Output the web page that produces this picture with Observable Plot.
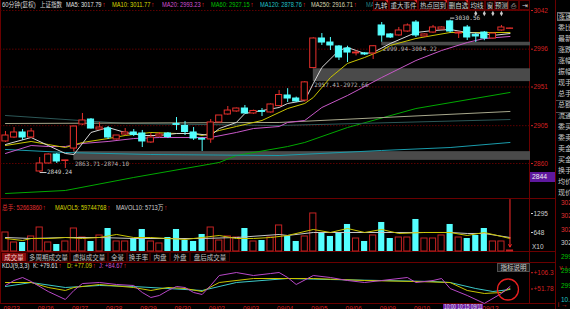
<!DOCTYPE html>
<html><head><meta charset="utf-8">
<script src="https://cdn.jsdelivr.net/npm/d3@7"></script>
<script src="https://cdn.jsdelivr.net/npm/@observablehq/plot@0.6"></script>
<style>
html,body{margin:0;padding:0;background:#000;width:570px;height:309px;overflow:hidden}
#root{position:relative;width:570px;height:309px;overflow:hidden;background:#000}
.t{position:absolute;white-space:nowrap;font-family:"Liberation Sans","Noto Sans CJK SC",sans-serif;transform-origin:0 50%}
#root svg{position:absolute;left:0}
</style></head><body><div id="root"></div>
<script>
// ---------------- data ----------------
const days = ["08/23","08/26","08/27","08/28","08/29","08/30","09/02","09/03","09/04","09/05","09/06","09/09","09/10","09/11","09/12"];
const opens = [2886.2,2890.9,2896.9,2890.9,2850.5,2860.0,2870.7,2863.0,2877.8,2906.4,
 2912.3,2900.4,2901.6,2888.6,2894.5,2896.9,2895.7,2885.0,2892.1,2895.7,
 2906.8,2904.6,2896.9,2889.3,2888.6,2908.8,2918.3,2921.9,2925.4,2919.5,
 2922.3,2920.7,2928.3,2940.9,2937.3,2934.9,2973.5,3008.7,3003.9,2999.2,
 2996.8,2991.0,2990.9,2990.9,3024.2,3013.5,3012.3,3017.0,3027.7,3011.1,
 3015.8,3019.4,3029.0,3014.6,3021.8,3013.0,3015.8,3008.7,3018.2,3020.2];
const highs = [2898.1,2902.8,2900.4,2901.6,2867.1,2871.5,2871.9,2863.71,2904.5,2919.5,
 2913.5,2908.8,2904.0,2893.3,2901.6,2900.4,2899.3,2895.7,2896.9,2896.9,
 2914.7,2910.0,2902.8,2890.3,2912.3,2917.1,2927.8,2926.0,2929.0,2923.5,
 2925.4,2931.0,2946.8,2949.0,2939.0,2957.41,3009.5,3014.6,3009.9,3000.4,
 2999.5,2994.4,2992.0,2999.94,3027.7,3014.6,3021.8,3026.0,3030.0,3014.0,
 3024.2,3022.5,3030.56,3016.0,3024.2,3014.6,3017.0,3015.0,3024.2,3021.0];
const lows = [2885.0,2889.7,2887.4,2889.7,2849.24,2859.5,2860.0,2854.1,2874.10,2905.2,
 2901.0,2899.8,2888.6,2888.0,2893.3,2892.1,2879.0,2884.0,2891.5,2889.7,
 2899.3,2893.3,2887.4,2874.3,2884.0,2908.0,2917.5,2921.0,2919.0,2918.5,
 2915.9,2920.0,2927.5,2932.6,2932.5,2933.0,2972.66,3000.4,2994.4,2982.5,
 2980.1,2988.0,2988.5,2983.7,3004.22,3008.7,3011.5,3016.0,3009.9,3010.5,
 3015.0,3018.8,3015.0,3008.7,3006.3,3003.9,3006.0,3008.0,3017.5,3020.0];
const closes = [2893.3,2896.9,2890.9,2898.1,2860.0,2870.7,2862.4,2863.71,2904.0,2911.2,
 2901.6,2902.8,2890.9,2893.3,2896.9,2894.0,2886.2,2890.9,2894.5,2891.5,
 2906.0,2897.5,2889.7,2888.4,2908.8,2917.1,2923.0,2925.4,2919.5,2922.5,
 2921.4,2930.2,2941.5,2937.3,2933.8,2956.5,3008.7,3003.9,3000.4,2986.1,
 2992.0,2992.0,2989.7,2999.5,3012.3,3009.9,3018.2,3024.2,3012.3,3013.5,
 3021.8,3021.8,3017.0,3015.8,3009.9,3011.1,3008.7,3014.6,3021.8,3020.6];
const volumes = [648,307,307,512,818,307,239,341,784,477,
 341,546,784,341,341,443,750,341,273,477,
 750,375,341,580,818,375,512,477,784,341,
 375,477,887,512,341,512,1296,614,512,648,
 921,443,341,546,989,443,477,477,1091,443,
 443,546,921,477,443,546,784,341,341,34];

// moving-average lines: [candle index, value]
const ma5 = [[0,2882.6],[3,2890.9],[5,2881.4],[7,2871.9],[8,2870.7],[10,2896.9],[12,2902.8],[14,2896.9],[16,2893.3],[18,2893.3],[20,2895.7],[22,2895.7],[24,2893.3],[25,2901.6],[27,2908.8],[28,2919.5],[30,2923.0],[32,2926.6],[33,2931.4],[35,2934.9],[36,2955.2],[37,2974.2],[39,2994.4],[40,2998.0],[42,2990.9],[43,2992.0],[45,3002.7],[48,3015.8],[50,3018.2],[52,3019.4],[54,3015.8],[56,3014.6],[57,3012.3],[59,3014.6]];
const ma10 = [[0,2881.4],[3,2886.2],[5,2882.6],[7,2879.0],[9,2885.0],[12,2889.7],[14,2893.3],[17,2896.9],[20,2895.7],[22,2895.7],[23,2893.3],[25,2899.3],[27,2904.0],[30,2911.2],[33,2925.4],[35,2931.4],[36,2938.5],[38,2962.3],[40,2979.0],[42,2986.1],[44,2994.4],[45,3000.4],[48,3008.7],[50,3012.3],[52,3015.8],[56,3015.8],[59,3015.8]];
const ma20 = [[0,2871.9],[3,2881.4],[5,2880.2],[7,2880.2],[9,2883.8],[12,2886.2],[15,2889.7],[18,2890.9],[21,2890.9],[24,2890.9],[27,2896.9],[29,2901.6],[32,2904.0],[33,2908.8],[35,2911.2],[37,2926.6],[40,2940.9],[44,2962.3],[48,2982.5],[51,2994.4],[54,3003.9],[56,3008.7],[59,3011.1]];
const ma60 = [[0,2824.3],[7,2827.9],[15,2843.4],[25,2861.2],[27,2869.5],[33,2880.2],[35,2885.0],[40,2902.8],[48,2925.4],[59,2944.5]];
const ma120 = [[0,2876.7],[7,2873.1],[17,2870.7],[32,2869.5],[44,2875.5],[52,2879.0],[59,2885.0]];
const ma250 = [[0,2907.6],[32,2908.8],[59,2921.9]];
const maX = [[0,2917.1],[14,2907.6],[32,2905.2],[59,2912.3]];
const mavol5 = [[0,443],[2,375],[3,443],[5,443],[7,477],[9,443],[11,477],[13,580],[15,477],[17,477],[19,443],[21,409],[23,477],[25,546],[27,443],[29,443],[31,477],[33,546],[36,750],[38,648],[40,784],[42,648],[44,750],[46,614],[49,648],[52,648],[54,546],[56,648],[59,443]];
const mavol10 = [[0,477],[3,443],[7,477],[11,477],[15,443],[19,443],[23,443],[27,477],[32,580],[33,546],[36,648],[40,648],[44,648],[48,648],[52,648],[54,614],[56,614],[59,477]];
const kdjK = [[0,60.1],[3,73.5],[7,56.8],[11,63.5],[15,60.1],[19,53.4],[23,46.8],[27,73.5],[33,86.9],[38,83.5],[44,80.2],[50,76.8],[52,73.5],[55,53.4],[57,43.4],[59,50.1]];
const kdjD = [[0,73.5],[3,73.5],[5,56.8],[7,46.8],[8,56.8],[11,66.8],[15,56.8],[17,46.8],[19,56.8],[21,53.4],[23,43.4],[25,73.5],[29,86.9],[33,86.9],[36,86.9],[42,80.2],[48,76.8],[52,73.5],[54,46.8],[56,36.8],[58,40.1],[59,53.4]];
const kdjJ = [[0,63.5],[1,80.2],[2,90.2],[3,76.8],[5,43.4],[7,16.7],[8,46.8],[9,70.1],[11,73.5],[13,66.8],[15,63.5],[16,40.1],[17,23.4],[18,30.1],[19,46.8],[20,60.1],[21,56.8],[22,40.1],[23,33.4],[24,63.5],[25,96.9],[27,106.9],[29,96.9],[31,103.5],[32,106.9],[33,90.2],[34,66.8],[36,96.9],[38,90.2],[40,80.2],[42,73.5],[44,80.2],[47,90.2],[48,73.5],[50,80.2],[51,86.9],[52,53.4],[54,30.1],[56,3.4],[58,36.8],[59,60.1]];

const yTicks = [3042, 2996, 2951, 2905, 2860];
const volTicks = [648, 1295];
const kdjTicks = [106.3, 51.78];
const gapStart = [8, 36, 44];
const gapLo = [2863.71, 2957.41, 2999.94];
const gapHi = [2874.10, 2972.66, 3004.22];
const lowPoint = {i: 4, v: 2849.24};
const highPoint = {i: 52, v: 3030.56};
const markerIdx = [55, 56, 57, 58];
const maNames = ["MA5","MA10","MA20","MA60","MA120","MA250"];
const maValues = [3017.79, 3011.77, 2993.23, 2927.15, 2878.76, 2916.71];
const volHeader = [["总手: 52663860", "#e03030"], ["MAVOL5: 59744768", "#d8d800"], ["MAVOL10: 5713万", "#d0d0d0"]];
const kdjHeader = [["K: +79.61", "#e0e0e0"], ["D: +77.09", "#d8d800"], ["J: +84.67", "#d050d0"]];
const tabs = ["成交量","多周期成交量","虚拟成交量","全景","换手率","内盘","外盘","盘后成交量"];
const tools = ["九转","重大事件","热点回到","删自选","均线","窗","预测","⎙","⇥"];
const infoLabels = ["委比","最新","涨跌","涨幅","振幅","现手","总手","总额","流通","委买","委卖","卖金","买金","换手","均价","现价"];
const quotes = [["3021.62","#e03030"],["3021.41","#e03030"],["3021.18","#e03030"],["3020.65","#d0d0d0"],["2999.80","#00c000"],["2998.45","#00c000"],["2996.10","#00c000"],["10.32","#20c0c0"]];
const cursorTime = "10:00 10:15 09/11";

// ---------------- styling / layout ----------------
const FONT = "'Liberation Sans',Arial,sans-serif";
const UP = "#e8302c", DOWN = "#54ffff", VUP = "#c42222", LINE = "#6a0000";
const X = {type: "linear", domain: [-0.5, 61.4], range: [0.7, 530]};
const HW = 0.36;
const root = document.getElementById("root");
const pts = a => a.map(([i, v]) => ({i, v}));
const candles = closes.map((c, i) => ({i, o: opens[i], h: highs[i], l: lows[i], c, up: c >= opens[i], vol: volumes[i]}));
const upC = candles.filter(d => d.up), dnC = candles.filter(d => !d.up);
const gaps = gapStart.map((s, k) => ({start: s, lo: gapLo[k], hi: gapHi[k], end: X.domain[1]}));
// the 09/11 date tick sits under the cursor-time box, as in the picture
const dayTicks = days.map((d, k) => k * 4).filter(t => days[t / 4] !== "09/11");

function txt(x, y, s, color, size = 7, extra = "", sx = 1) {
  const d = document.createElement("div");
  d.className = "t";
  d.style.cssText = `left:${x}px;top:${y - size / 2}px;font-size:${size}px;line-height:${size}px;color:${color};transform:scaleX(${sx});${extra}`;
  d.textContent = s;
  root.appendChild(d);
  return d;
}
function box(x, y, w, h, css) {
  const d = document.createElement("div");
  d.style.cssText = `position:absolute;left:${x}px;top:${y}px;width:${w}px;height:${h}px;${css}`;
  root.appendChild(d);
  return d;
}
const hline = (x1, x2, y, c = LINE) => box(x1, y, x2 - x1, 1, `background:${c}`);
const vline = (x, y1, y2, c = LINE) => box(x, y1, 1, y2 - y1, `background:${c}`);
function place(svg, top) { svg.style.top = top + "px"; root.appendChild(svg); }
function arrowUp(d) { const a = document.createElement("span"); a.textContent = "↑"; a.style.color = "#ff2020"; a.style.marginLeft = "1px"; d.appendChild(a); }

// frame lines
vline(0, 0, 304); vline(529, 10, 304); vline(555, 0, 309);
hline(0, 556, 198); hline(0, 556, 251); hline(0, 556, 262); hline(0, 556, 303);
hline(373, 530, 10);

// ---------------- main price panel ----------------
const mainPlot = Plot.plot({
  width: 570, height: 198, margin: 0, marginRight: 40,
  x: {...X, axis: null},
  y: {domain: [2860, 3042], range: [163, 10], axis: null},
  style: {background: "transparent", color: "#d42020", fontFamily: FONT, fontSize: "6.5px", overflow: "visible"},
  marks: [
    Plot.gridY(yTicks, {stroke: "#5c0000", strokeOpacity: 1, strokeDasharray: "1.5,1.5"}),
    Plot.rect(gaps, {x1: "start", x2: "end", y1: "lo", y2: "hi", fill: "#4a4a4a"}),
    Plot.text(gaps, {x: "start", y: "lo", text: d => `${d.lo.toFixed(2)}-${d.hi.toFixed(2)}`, textAnchor: "start", lineAnchor: "top", dx: 1, dy: 1, fill: "#b4b4b4", fontSize: 6, fontFamily: "DejaVu Sans Mono"}),
    Plot.line(pts(ma60), {x: "i", y: "v", stroke: "#00a800", strokeWidth: 1}),
    Plot.line(pts(ma120), {x: "i", y: "v", stroke: "#1a9cac", strokeWidth: 1}),
    Plot.line(pts(maX), {x: "i", y: "v", stroke: "#2c5858", strokeWidth: 1}),
    Plot.line(pts(ma250), {x: "i", y: "v", stroke: "#a8a88c", strokeWidth: 1}),
    Plot.line(pts(ma20), {x: "i", y: "v", stroke: "#c858c8", strokeWidth: 1}),
    Plot.line(pts(ma10), {x: "i", y: "v", stroke: "#c8c400", strokeWidth: 1}),
    Plot.line(pts(ma5), {x: "i", y: "v", stroke: "#d8d8d8", strokeWidth: 1}),
    Plot.ruleX(upC, {x: "i", y1: "l", y2: "h", stroke: UP}),
    Plot.ruleX(dnC, {x: "i", y1: "l", y2: "h", stroke: DOWN}),
    Plot.rect(upC, {x1: d => d.i - HW, x2: d => d.i + HW, y1: "o", y2: "c", fill: "#000", stroke: UP, strokeWidth: 1}),
    Plot.rect(dnC, {x1: d => d.i - HW, x2: d => d.i + HW, y1: "o", y2: "c", fill: DOWN, stroke: DOWN, strokeWidth: 1}),
    Plot.link([lowPoint], {x1: "i", x2: d => d.i + 0.8, y1: "v", y2: "v", stroke: "#d0d0d0"}),
    Plot.text([lowPoint], {x: d => d.i + 0.85, y: "v", text: d => d.v.toFixed(2), textAnchor: "start", fill: "#d0d0d0", fontSize: 6, fontFamily: "DejaVu Sans Mono"}),
    Plot.link([highPoint], {x1: "i", x2: d => d.i + 0.5, y1: "v", y2: "v", stroke: "#d0d0d0", dy: -2}),
    Plot.text([highPoint], {x: d => d.i + 0.55, y: "v", text: d => d.v.toFixed(2), textAnchor: "start", dy: -2, fill: "#d0d0d0", fontSize: 6, fontFamily: "DejaVu Sans Mono"}),
    Plot.dot(markerIdx, {x: d => d, frameAnchor: "top", dy: 13, symbol: "diamond", r: 1.6, fill: "#c8c8c8"}),
    Plot.axisY(yTicks, {anchor: "right", tickSize: 2, tickPadding: 1, tickFormat: d => String(d), fontSize: 6.5})
  ]
});
place(mainPlot, 0);

// ---------------- volume panel ----------------
const vUp = candles.filter(d => d.up), vDn = candles.filter(d => !d.up);
const volPlot = Plot.plot({
  width: 570, height: 52, margin: 0, marginRight: 40,
  x: {...X, axis: null},
  y: {domain: [0, 1295], range: [52, 14], axis: null},
  style: {background: "transparent", color: "#cfcfcf", fontFamily: FONT, fontSize: "6.5px", overflow: "visible"},
  marks: [
    Plot.rect(vUp, {x1: d => d.i - HW, x2: d => d.i + HW, y1: 0, y2: "vol", fill: "#000", stroke: VUP, strokeWidth: 1}),
    Plot.rect(vDn, {x1: d => d.i - HW, x2: d => d.i + HW, y1: 0, y2: "vol", fill: DOWN}),
    Plot.line(pts(mavol10), {x: "i", y: "v", stroke: "#c8c8c8", strokeWidth: 1}),
    Plot.line(pts(mavol5), {x: "i", y: "v", stroke: "#c8c400", strokeWidth: 1}),
    Plot.arrow([candles[candles.length - 1]], {x1: "i", x2: "i", y1: () => 1772, y2: d => d.vol + 120, stroke: "#ff2a2a", strokeWidth: 1, headLength: 4}),
    Plot.axisY(volTicks, {anchor: "right", tickSize: 2, tickPadding: 1, tickFormat: d => String(d), fontSize: 6.5})
  ]
});
place(volPlot, 199);

// ---------------- KDJ panel ----------------
const kdjPlot = Plot.plot({
  width: 570, height: 47, margin: 0, marginRight: 40, marginBottom: 5,
  x: {...X, axis: null},
  y: {domain: [51.78, 106.3], range: [26.5, 10.2], axis: null},
  style: {background: "transparent", color: "#d42020", fontFamily: FONT, fontSize: "6.5px", overflow: "visible"},
  marks: [
    Plot.line(pts(kdjK), {x: "i", y: "v", stroke: "#3cc8c8", strokeWidth: 1}),
    Plot.line(pts(kdjD), {x: "i", y: "v", stroke: "#c8c400", strokeWidth: 1}),
    Plot.line(pts(kdjJ), {x: "i", y: "v", stroke: "#b848c8", strokeWidth: 1}),
    Plot.dot([pts(kdjK).at(-1)], {x: "i", y: "v", r: 10.5, stroke: "#e82020", strokeWidth: 1.3, dx: -2}),
    Plot.axisY(kdjTicks, {anchor: "right", tickSize: 2, tickPadding: 1, tickFormat: d => "+" + d, fontSize: 6.5}),
    Plot.axisX(dayTicks, {anchor: "bottom", tickSize: 0, tickPadding: 1.5, textAnchor: "start", dx: -2, tickFormat: d => days[Math.round(d / 4)], fontSize: 6.5})
  ]
});
place(kdjPlot, 262);

// ---------------- text overlays ----------------
txt(2, 5, "60分钟(复权)", "#d8d8d8", 6.5, "", 0.9);
txt(40, 5, "上证指数", "#d8d8d8", 6.5, "", 0.85);
const maColors = ["#e0e0e0", "#d8d800", "#d050d0", "#00c000", "#20c0c8", "#d8d8b0"];
const maX0 = [66, 112, 162, 211, 260, 311];
maNames.forEach((n, k) => arrowUp(txt(maX0[k], 5, `${n}: ${maValues[k].toFixed(2)}`, maColors[k], 6.8, "", 0.84)));
txt(366, 5, "MA", "#208080", 6.8, "", 0.84);
// toolbar
const toolX = [373, 389, 418, 448, 469, 485, 495, 508, 519, 530];
tools.forEach((s, k) => {
  const w = toolX[k + 1] - toolX[k];
  box(toolX[k], 0, w, 10, `border:1px solid #5a0000;box-sizing:border-box;background:#080000`);
  txt(toolX[k], 5, s, "#d0d0d0", 6.5, `width:${w}px;text-align:center;font-family:'Noto Sans CJK SC',sans-serif`);
  if (k < 4) box(toolX[k + 1] - 4, 0, 3, 3, "background:#e02020;clip-path:polygon(0 0,100% 0,100% 100%)");
});
// 2844 price box
box(530, 172, 25, 10, "background:#5e189e");
txt(532, 177, "2844", "#f0f0f0", 6.8);
// right info column
box(557, 12, 20, 9, "border:1px solid #707070;box-sizing:border-box");
txt(558, 16.5, "涨速", "#d0d0d0", 7, "font-family:'Noto Sans CJK SC'");
infoLabels.forEach((s, k) => txt(558, 27.5 + k * 11, s, "#c8c8c8", 7, "font-family:'Noto Sans CJK SC'"));
hline(556, 570, 100, "#505050"); hline(556, 570, 112, "#505050");
const quoteY = [203, 216.5, 230, 243.5, 257, 271.5, 286, 300.5];
quotes.forEach(([s, c], k) => txt(561, quoteY[k], s, c, 6.5));
// volume header + labels
const volHX = [2, 55, 116];
volHeader.forEach(([s, c], k) => arrowUp(txt(volHX[k], 208.5, s, c, 6.8, "", 0.84)));
txt(532, 247.5, "X10", "#d0d0d0", 6.5);
// tabs
const tabX = [1, 27, 70, 108, 127, 150, 170, 190, 230];
tabs.forEach((s, k) => {
  const w = tabX[k + 1] - tabX[k];
  box(tabX[k], 252, w, 10, `border:1px solid #3a0000;box-sizing:border-box;background:${k === 0 ? "#8a0c0c" : "#050000"}`);
  txt(tabX[k], 257, s, k === 0 ? "#f0d0d0" : "#c0c0c0", 6.5, `width:${w}px;text-align:center;font-family:'Noto Sans CJK SC'`);
});
// KDJ header
txt(2, 266.5, "KDJ(9,3,3)", "#e0e0e0", 6.8, "", 0.84);
const kX = [33, 67, 99];
kdjHeader.forEach(([s, c], k) => arrowUp(txt(kX[k], 266.5, s, c, 6.8, "", 0.84)));
box(497, 263, 33, 9, "background:#1c1c1c;border:1px solid #505050;box-sizing:border-box");
txt(497, 267.5, "指标说明", "#d0d0d0", 6.5, "width:33px;text-align:center;font-family:'Noto Sans CJK SC'");
// cursor time box on the date axis
box(443, 304, 40, 6, "background:#6a1aa8");
txt(444, 307.5, cursorTime, "#e0e0e0", 6.5, "", 0.74);
</script></body></html>
